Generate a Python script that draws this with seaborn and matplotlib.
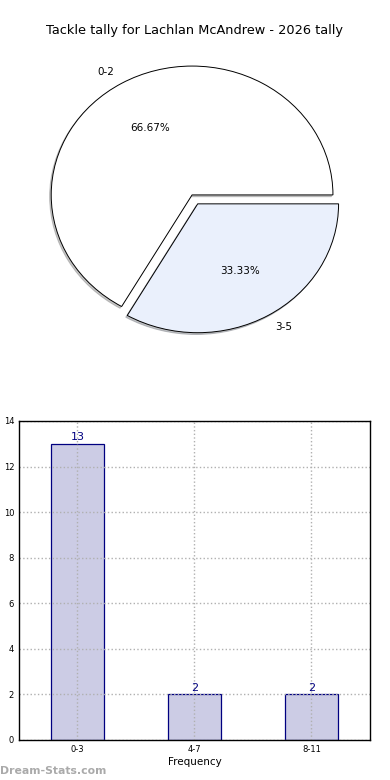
import matplotlib
matplotlib.use("Agg")
import matplotlib.pyplot as plt
import seaborn as sns

# Pie data
pie_labels = ["0-2", "3-5"]
pie_values = [2, 1]
pie_colors = ["#ffffff", "#eaf0fc"]

# Bar data
bar_cats = ["0-3", "4-7", "8-11"]
bar_counts = [13, 2, 2]

sns.set_style("white")
plt.rcParams.update({
    "font.family": ["DejaVu Sans"],
    "axes.edgecolor": "black",
    "axes.linewidth": 1.0,
    "text.color": "black",
    "axes.labelcolor": "black",
    "xtick.color": "black",
    "ytick.color": "black",
})

fig = plt.figure(figsize=(3.9, 7.8), dpi=100)
fig.patch.set_facecolor("white")

# --- pie ---
ax1 = fig.add_axes([0.041, 0.5436, 0.903, 0.413])
ax1.pie(pie_values, labels=pie_labels, colors=pie_colors,
        explode=[0, 0.08], autopct="%.2f%%",
        shadow={"ox": -0.008, "oy": -0.01, "shade": 0.45}, startangle=0,
        wedgeprops={"edgecolor": "black", "linewidth": 0.7},
        textprops={"fontsize": 7.5, "color": "black"})
ax1.set_aspect("auto")
ax1.set_xlim(-1.25, 1.25)
ax1.set_ylim(-1.25, 1.25)
fig.text(0.5, 0.961, "Tackle tally for Lachlan McAndrew - 2026 tally",
         ha="center", va="center", fontsize=9.3)

# --- bars ---
ax2 = fig.add_axes([0.0487, 0.0513, 0.9, 0.409])
sns.barplot(x=bar_cats, y=bar_counts, color="#ccCCE5", saturation=1,
            edgecolor="#000080", linewidth=0.9, width=0.45, ax=ax2)
ax2.bar_label(ax2.containers[0], color="#000080", fontsize=8, padding=1)
ax2.set_xlim(-0.5, 2.5)
ax2.set_ylim(0, 14)
ax2.set_yticks(range(0, 15, 2))
ax2.grid(True, linestyle=":", color="#b0b0b0", linewidth=1.0)
ax2.set_axisbelow(False)
for s in ax2.spines.values():
    s.set_visible(True)
    s.set_color("black")
    s.set_zorder(5)
ax2.tick_params(labelsize=6, length=3, direction="in")
ax2.set_xlabel("Frequency", fontsize=7.5, labelpad=2)
ax2.set_ylabel("Occurrences", fontsize=7, labelpad=4)

fig.text(0.0, 0.005, "Dream-Stats.com", color="#aaaaaa", fontsize=7.8,
         fontweight="bold", ha="left", va="bottom")

fig.savefig("out.png", dpi=100)
